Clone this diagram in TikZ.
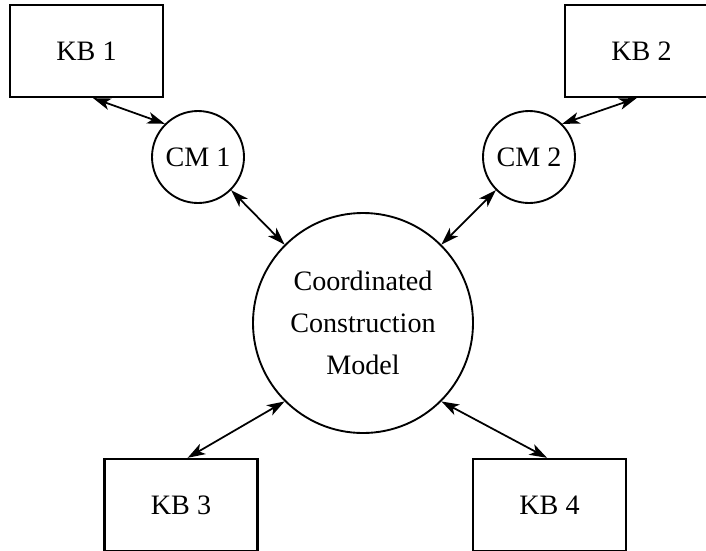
\documentclass[tikz,border=0pt]{standalone}
\usepackage{fontspec}
\setmainfont{Liberation Serif}
\usetikzlibrary{arrows.meta}
\tikzset{
    kbblock/.style = {draw, rectangle, line width=2pt,
        minimum height=2.76cm,
        minimum width=4.59cm, align=center},
    cmnode/.style = {draw, circle, line width=1.6pt,
        minimum size=2.76cm, inner sep=0pt},
    modelnode/.style = {draw, circle, line width=1.6pt,
        minimum size=6.6cm, inner sep=0pt, align=center},
    link/.style = {draw, <->, line width=1.5pt}
}

\begin{document}
\begin{tikzpicture}[x=0.03cm, y=-0.03cm, font=\fontsize{24}{35.7}\selectfont,
    >={Stealth[length=15pt,width=10pt,inset=4pt]}]
    \useasboundingbox (0,0) rectangle (706,550);
    \clip (0,0) rectangle (706,550);
    \node [kbblock] (kb1) at (86.5,51) {KB 1};
    \node [kbblock] (kb2) at (641.5,51) {KB 2};
    \node [cmnode] (cm1) at (198,157) {CM 1};
    \node [cmnode] (cm2) at (529,157) {CM 2};
    \node [modelnode] (model) at (363,323) {Coordinated\\Construction\\Model};
    \node [kbblock] (kb3) at (181,505) {KB 3};
    \node [kbblock] (kb4) at (549.5,505) {KB 4};
    \draw [link] (kb1.-82) -- (cm1.north west);
    \draw [link] (kb2.-96) -- (cm2.north east);
    \draw [link] (cm1.south east) -- (model.north west);
    \draw [link] (cm2.south west) -- (model.north east);
    \draw [link] (model.south west) -- (kb3.82);
    \draw [link] (model.south east) -- (kb4.93);
\end{tikzpicture}
\end{document}
